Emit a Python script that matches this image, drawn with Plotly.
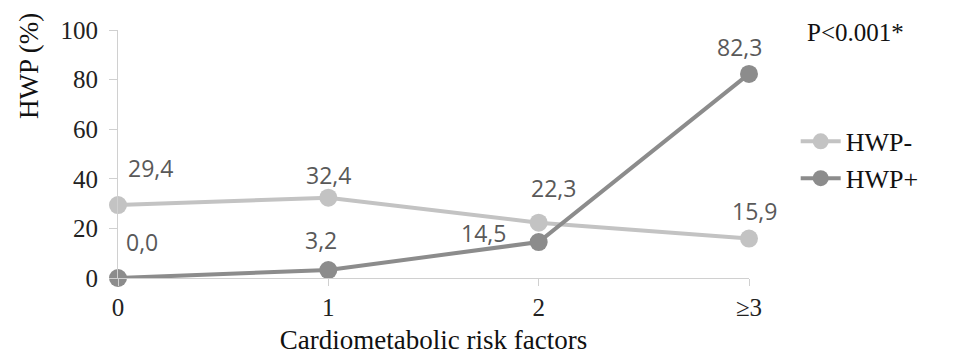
import plotly.graph_objects as go

categories = ["0", "1", "2", "≥3"]
hwp_minus = [29.4, 32.4, 22.3, 15.9]
hwp_plus = [0.0, 3.2, 14.5, 82.3]
y_ticks = [0, 20, 40, 60, 80, 100]

x_idx = list(range(len(categories)))

fig = go.Figure()
fig.add_trace(go.Scatter(
    x=x_idx, y=hwp_minus, name="HWP-", mode="lines+markers",
    line=dict(color="#c3c3c3", width=4),
    marker=dict(color="#c3c3c3", size=18),
    cliponaxis=False,
))
fig.add_trace(go.Scatter(
    x=x_idx, y=hwp_plus, name="HWP+", mode="lines+markers",
    line=dict(color="#8c8c8c", width=4),
    marker=dict(color="#8c8c8c", size=18),
    cliponaxis=False,
))

label_font = dict(family="Open Sans", size=23, color="#595959")
minus_shifts = [(32, 37), (0, 23), (15, 35), (5, 28)]
plus_shifts = [(24, 36), (-7, 30), (-55, 9), (-10, 27)]

def fmt(v):
    return f"{v:.1f}".replace(".", ",")

for xi, v, (dx, dy) in zip(x_idx, hwp_minus, minus_shifts):
    fig.add_annotation(x=xi, y=v, text=fmt(v), showarrow=False,
                       xshift=dx, yshift=dy, font=label_font)
for xi, v, (dx, dy) in zip(x_idx, hwp_plus, plus_shifts):
    fig.add_annotation(x=xi, y=v, text=fmt(v), showarrow=False,
                       xshift=dx, yshift=dy, font=label_font)

fig.add_annotation(xref="paper", yref="paper", x=1.089, y=0.988, xanchor="left",
                   yanchor="middle", text="P<0.001*", showarrow=False,
                   font=dict(family="Liberation Serif", size=25, color="#111111"))

# y-axis title placed near the top-left, as in the reference
fig.add_annotation(xref="paper", yref="paper", x=-0.141, y=0.855, xanchor="center",
                   yanchor="middle", text="HWP (%)", textangle=-90, showarrow=False,
                   font=dict(family="Liberation Serif", size=27, color="#111111"))

serif = dict(family="Liberation Serif", size=25, color="#222222")

fig.update_layout(
    width=968, height=356,
    margin=dict(l=118, r=219, t=30, b=78, autoexpand=False),
    paper_bgcolor="white", plot_bgcolor="white",
    font=serif,
    showlegend=True,
    legend=dict(x=1.074, y=0.476, xanchor="left", yanchor="middle",
                font=dict(family="Liberation Serif", size=26, color="#111111"),
                itemwidth=40, tracegroupgap=0, bgcolor="rgba(0,0,0,0)"),
    xaxis=dict(
        range=[0, 3], tickmode="array", tickvals=x_idx, ticktext=categories,
        showgrid=False, zeroline=False, showline=True, linecolor="#d0d0d0",
        linewidth=1, ticks="outside", tickcolor="#d0d0d0", ticklen=7,
        tickfont=serif, automargin=False,
        title=dict(text="Cardiometabolic risk factors",
                   font=dict(family="Liberation Serif", size=27, color="#111111"),
                   standoff=10),
    ),
    yaxis=dict(
        range=[0, 100], tickmode="array", tickvals=y_ticks,
        showgrid=False, zeroline=False, showline=True, linecolor="#d0d0d0",
        linewidth=1, ticks="outside", tickcolor="#d0d0d0", ticklen=8,
        tickfont=serif, automargin=False, ticklabelstandoff=6,
    ),
)

fig.write_html("out.html", config={"displayModeBar": False},
               post_script="document.body.style.margin='0px';")
